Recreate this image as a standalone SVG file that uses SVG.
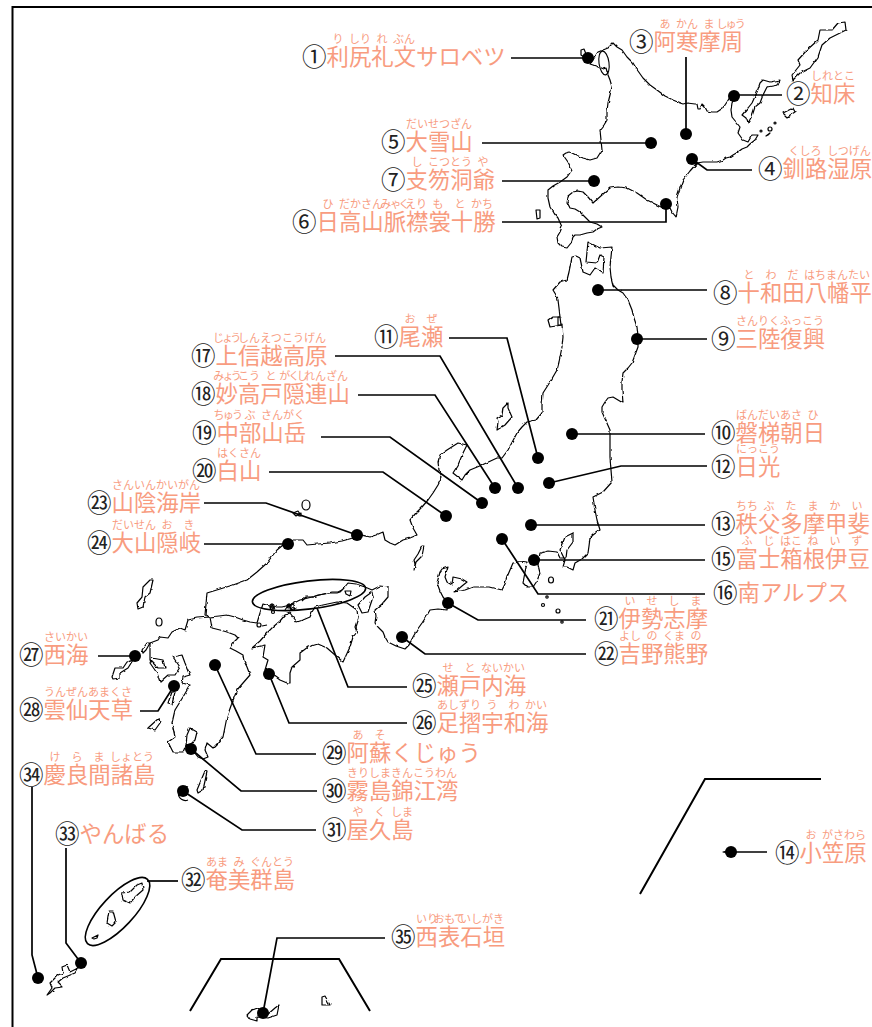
<svg xmlns="http://www.w3.org/2000/svg" width="872" height="1027" viewBox="0 0 872 1027">
<defs><filter id="w" x="-5%" y="-5%" width="110%" height="110%" filterUnits="objectBoundingBox"><feTurbulence type="fractalNoise" baseFrequency="0.2" numOctaves="1" seed="4"/><feDisplacementMap in="SourceGraphic" scale="3" xChannelSelector="R" yChannelSelector="G"/></filter></defs>
<style>
text{font-family:"Noto Sans CJK JP","Noto Sans",sans-serif}
.m{fill:none;stroke:#000;stroke-width:1.2;stroke-linejoin:round}
.e{fill:none;stroke:#000;stroke-width:1.6}
.f{fill:none;stroke:#000;stroke-width:2}
.c{fill:none;stroke:#000;stroke-width:1.7}
.n{font-size:24.5px;fill:#222;transform:translate(-1px,1px)}
.l{font-size:22.4px;fill:#f89c7f;transform:translate(-.5px,0)}
.r{font-size:11px;fill:#f89c7f;text-anchor:middle}
.t{font-feature-settings:"palt"}
.d{fill:#000}
</style>
<rect width="872" height="1027" fill="#fff"/>
<g id="map">
<path class="f" d="M872 7H12.500V1027"/>
<path class="f" d="M190 1011L221 959H339L370 1011M640 894L705 779H821"/>
<g filter="url(#w)">
<path class="m" d="M613 43L617 47 622 50 627 57 633 63 638 71 643 78 650 85 657 90 665 96 673 100 680 103 683 104 687 103 695 104 697 104 698 109 700 109 702 104 705 107 707 111 712 112 717 112 723 108 727 102 730 97 737 92 735 97 732 103 731 110 732 117 736 122 740 127 738 133 743 140 748 142 752 135 758 135 755 140 750 144 747 147 742 149 738 152 733 155 730 157 726 158 723 160 717 162 710 162 703 162 697 163 690 171 683 180 680 188 677 197 678 207 676 217 672 212 670 208 663 208 655 204 647 200 637 193 627 188 618 187 610 188 602 195 593 203 588 197 583 192 578 191 573 192 568 196 567 202 570 208 575 209 580 212 585 217 590 222 597 224 602 227 597 229 593 232 587 233 580 235 575 235 573 237 571 243 567 248 562 247 558 243 557 237 560 232 562 227 558 218 553 212 550 207 548 198 548 190 553 186 560 182 567 177 572 170 568 162 563 155 566 153 570 152 576 155 583 158 590 160 597 158 602 150 601 140 600 130 604 125 607 120 607 111 608 103 610 95 612 87 610 80 608 75 606 68 603 69 598 67 593 65 590 64 593 60 596 55 598 52 603 50 608 48 613 43Z"/>
<path class="m" d="M763 80L770 82 780 80 778 85 767 87 763 95 760 103 755 107 752 116 748 123 746 118 742 115 748 108 752 103 757 92 760 83Z"/>
<path class="m" d="M845 22L838 23 832 30 820 30 818 40 807 50 798 60 800 65 792 75 793 80 800 73 810 68 818 57 822 45 830 38 846 30Z"/>
<path class="m" d="M783 113L793 108 795 112 787 117Z"/>
<path class="m" d="M588 242L594 245 600 248 612 247 611 257 610 267 611 277 613 285 618 290 623 293 628 300 632 310 634 318 637 327 638 337 638 347 635 355 632 363 628 368 623 373 622 382 622 390 623 403 618 400 613 397 608 398 605 402 602 407 602 412 606 421 610 430 610 445 610 457 611 470 612 482 603 492 593 497 595 510 597 520 600 530 593 535 590 538 589 546 588 553 582 559 575 563 573 570 567 567 563 567 565 560 560 550 565 537 573 533 573 542 567 550 566 558 560 558 557 552 548 551 540 553 538 565 540 573 537 581 533 587 527 587 523 583 525 572 527 563 520 562 513 563 510 570 507 577 505 584 502 590 490 587 473 587 465 590 455 592 462 586 467 582 462 579 453 577 452 585 447 582 445 577 448 567 442 569 440 572 437 583 440 591 443 597 448 603 447 610 438 609 430 610 426 617 422 623 417 630 413 637 409 645 405 649 396 646 388 642 385 637 383 632 378 627 375 623 376 616 375 610 382 604 388 597 388 587 380 586 372 590 365 587 356 584 348 583 344 588 340 592 337 593 327 593 312 597 300 600 290 605 282 607 273 607 263 604 260 613 257 623 250 622 243 620 235 617 227 615 219 616 210 617 205 615 206 604 207 593 220 589 233 585 247 580 257 572 267 563 273 555 277 550 283 545 293 540 303 540 307 545 318 544 330 543 342 541 353 538 362 535 370 537 376 535 383 532 385 540 390 543 395 545 403 540 410 538 417 535 413 528 410 520 416 513 422 507 428 500 433 493 438 485 442 477 439 470 438 462 440 455 447 450 458 443 467 445 463 453 458 465 453 473 458 477 462 480 465 475 470 470 482 465 497 458 502 458 508 450 517 433 522 427 527 422 536 420 542 413 542 405 543 393 550 382 557 370 559 362 560 357 562 347 563 337 562 325 550 327 548 320 552 317 560 317 559 308 558 300 556 295 553 290 560 282 567 280 569 272 570 267 572 257 576 256 580 258 583 272 590 275 595 268 603 273 604 257 600 255 597 263 586 262Z"/>
<path class="m" d="M508 403L508 408 512 417 505 425 497 430 498 422 497 418 502 415 503 408Z"/>
<path class="m" d="M422 546L424 546 422 556 416 562 414 570 415 564 414 560 418 554Z"/>
<path class="m" d="M358 605L365 597 372 592 373 597 368 612 362 613Z"/>
<path class="m" d="M252 648L260 641 267 633 273 627 280 621 285 615 290 613 297 622 303 620 310 617 312 612 315 607 323 605 337 602 347 603 357 610 358 618 355 627 357 632 353 637 350 647 343 662 335 655 327 648 318 644 308 647 300 653 300 660 292 667 290 673 290 683 287 683 280 680 273 675 265 670 268 660 263 657 265 645Z"/>
<path class="m" d="M210 617L212 628 220 630 227 632 235 635 238 638 234 642 230 648 236 651 243 655 244 661 247 667 250 675 243 683 237 690 232 703 227 717 225 727 223 737 218 743 213 748 207 743 205 750 208 757 203 759 198 757 190 747 186 745 190 745 195 740 197 732 190 728 187 735 186 745 183 752 173 752 168 742 175 737 172 723 175 710 183 697 190 685 182 683 183 677 190 675 185 663 182 655 173 657 180 667 175 675 168 675 160 682 157 673 150 663 152 658 163 660 165 668 158 668 150 660 150 643 158 640 160 637 168 638 172 632 180 628 185 630 188 620 197 618Z"/>
<path class="m" d="M142 650L147 643 150 643 146 650 143 653Z"/>
<path class="m" d="M150 580L153 580 150 593 145 597 143 607 138 609 137 603 142 597 143 587Z"/>
<path class="m" d="M112 677L115 668 123 668 127 662 133 660 128 668 120 673 120 678 113 679Z"/>
<path class="m" d="M148 728L159 718 160 723 155 730Z"/>
<path class="m" d="M172 692L168 703 172 704 175 692Z"/>
<path class="m" d="M205 771L207 772 203 790 198 793 197 790 202 778Z"/>
<path class="m" d="M122 893L130 892 137 885 142 883 143 890 135 897 130 903 123 900Z"/>
<path class="m" d="M109 911L113 911 116 922 112 926 107 923 108 917Z"/>
<path class="m" d="M47 995L52 988 50 983 58 975 63 973 62 967 67 965 70 972 78 968 75 973 63 978 58 982 63 987 55 988 50 993Z"/>
<path class="m" d="M247 1015L252 1010 258 1008 267 1015 275 1008 279 1005 277 1015 268 1018 257 1017 257 1021 250 1019Z"/>
<path class="m" d="M322 997L325 996 330 1005 322 1005Z"/>
<path class="m" d="M277 605L274 609 272 604 270 608 274 611M288 607L293 604 296 608 291 610 289 604 285 610M302 601L306 597 313 597 318 595 325 594 332 592 338 592 342 590M345 591L351 591 350 596 346 594Z"/>
</g>
<ellipse class="e" cx="604" cy="63" rx="5" ry="12" transform="rotate(-8 604 63)" style="stroke-width:1.1"/>
<path class="m" d="M581 50L584 49 586 54 584 57 581 55Z"/>
<circle class="m" cx="770" cy="129" r="2"/><circle class="m" cx="775" cy="123" r="1"/><circle class="m" cx="761" cy="131" r="1"/>
<path class="m" d="M766 136L770 133 768 135Z"/>
<path class="m" d="M536 210L540 210 540 218 537 219Z"/>
<path class="m" d="M560 317L561 325 558 325 558 317Z"/>
<ellipse class="m" cx="306" cy="505" rx="4" ry="5"/>
<path class="m" d="M293 513L298 511 300 514 296 516Z"/><path class="m" d="M298 514L301 513 301 516 299 516Z"/>
<ellipse class="m" cx="551" cy="580" rx="2.500" ry="3"/><circle class="m" cx="547" cy="597" r="1.200"/><circle class="m" cx="543" cy="605" r="1.500"/><ellipse class="m" cx="558" cy="611" rx="2" ry="2"/><circle class="m" cx="562" cy="622" r="1.200"/>
<ellipse class="e" cx="309" cy="595" rx="57" ry="14" transform="rotate(-7 309 595)"/>
<circle class="m" cx="272" cy="606" r="2"/><circle class="m" cx="289" cy="606" r="2"/><circle class="m" cx="293" cy="609" r="1.500"/><circle class="m" cx="273" cy="612" r="1.500"/>
<circle class="m" cx="259" cy="625" r="2"/><path class="m" d="M262 626L267 625"/>
<ellipse class="m" cx="159" cy="622" rx="3" ry="4"/>
<path class="m" d="M188 800A7 7 0 1 1 188 787"/>
<ellipse class="e" cx="117.500" cy="911.500" rx="44" ry="16" transform="rotate(-47 117.500 911.500)"/>
<path class="m" d="M92 938L98 935 97 938 94 939Z"/>
<path class="m" d="M723 852L731 850 735 852 731 854Z"/>
</g>
<g id="connectors">
<path class="c" d="M511 58H588"/><path class="c" d="M734 95H782"/><path class="c" d="M686 57V134"/><path class="c" d="M692 159L707 170H752"/>
<path class="c" d="M482 143H651"/><path class="c" d="M502 181H594"/><path class="c" d="M502 222H666V204"/><path class="c" d="M598 290H707"/>
<path class="c" d="M637 339H707"/><path class="c" d="M572 434H705"/><path class="c" d="M449 338H507L538 458"/><path class="c" d="M549 483L621 466H707"/>
<path class="c" d="M531 525H705"/><path class="c" d="M534 560H705"/><path class="c" d="M502 539L538 594H705"/><path class="c" d="M335 356H440L518 488"/>
<path class="c" d="M358 395H435L495 488"/><path class="c" d="M321 437H390L482 503"/><path class="c" d="M269 472H383L446 516"/><path class="c" d="M448 603L478 620H586"/>
<path class="c" d="M402 637L425 654H586"/><path class="c" d="M204 503H266L357 535"/><path class="c" d="M204 544H288"/><path class="c" d="M317 608L348 687H407"/>
<path class="c" d="M269 674L289 723H407"/><path class="c" d="M98 656H135"/><path class="c" d="M140 711H158L174 686"/><path class="c" d="M215 665L256 754H316"/>
<path class="c" d="M191 749L241 791H317"/><path class="c" d="M183 791L242 830H316"/><path class="c" d="M147 881H178"/><path class="c" d="M66 848V943L81 963"/>
<path class="c" d="M32 787V955L38 978"/><path class="c" d="M385 938H277L263 1013"/><path class="c" d="M731 852H767"/>
</g>
<g id="n1"><circle class="d" cx="588" cy="58" r="6"/><text class="n" x="303" y="65">①</text><text class="l" x="327" y="65">利尻礼文サロベツ</text><text class="r" y="43"><tspan x="338">り</tspan><tspan x="360">しり</tspan><tspan x="382">れ</tspan><tspan x="404">ぶん</tspan></text></g>
<g id="n2"><circle class="d" cx="734" cy="96" r="6"/><text class="n" x="787" y="102">②</text><text class="l" x="811" y="102">知床</text><text class="r" y="80"><tspan x="833">しれとこ</tspan></text></g>
<g id="n3"><circle class="d" cx="686" cy="134" r="6"/><text class="n" x="630" y="50">③</text><text class="l" x="654" y="50">阿寒摩周</text><text class="r" y="28"><tspan x="665">あ</tspan><tspan x="687">かん</tspan><tspan x="709">ま</tspan><tspan class="t" x="731">しゅう</tspan></text></g>
<g id="n4"><circle class="d" cx="692" cy="159" r="6"/><text class="n" x="759" y="177">④</text><text class="l" x="783" y="177">釧路湿原</text><text class="r" y="155"><tspan x="805">くしろ</tspan><tspan x="849">しつげん</tspan></text></g>
<g id="n5"><circle class="d" cx="651" cy="143" r="6"/><text class="n" x="382" y="150">⑤</text><text class="l" x="406" y="150">大雪山</text><text class="r" y="128"><tspan x="417">だい</tspan><tspan x="439">せつ</tspan><tspan x="461">ざん</tspan></text></g>
<g id="n7"><circle class="d" cx="594" cy="181" r="6"/><text class="n" x="382" y="188">⑦</text><text class="l" x="406" y="188">支笏洞爺</text><text class="r" y="166"><tspan x="417">し</tspan><tspan x="439">こつ</tspan><tspan x="461">とう</tspan><tspan x="483">や</tspan></text></g>
<g id="n6"><circle class="d" cx="666" cy="204" r="6"/><text class="n" x="293" y="230">⑥</text><text class="l" x="317" y="230">日高山脈襟裳十勝</text><text class="r" y="208"><tspan x="328">ひ</tspan><tspan x="350">だか</tspan><tspan x="372">さん</tspan><tspan class="t" x="394">みゃく</tspan><tspan x="416">えり</tspan><tspan x="438">も</tspan><tspan x="460">と</tspan><tspan x="482">かち</tspan></text></g>
<g id="n8"><circle class="d" cx="598" cy="290" r="6"/><text class="n" x="714" y="301">⑧</text><text class="l" x="738" y="301">十和田八幡平</text><text class="r" y="279"><tspan x="749">と</tspan><tspan x="771">わ</tspan><tspan x="793">だ</tspan><tspan x="837">はちまんたい</tspan></text></g>
<g id="n9"><circle class="d" cx="637" cy="339" r="6"/><text class="n" x="712" y="347">⑨</text><text class="l" x="736" y="347">三陸復興</text><text class="r" y="325"><tspan x="747">さん</tspan><tspan x="769">りく</tspan><tspan x="791">ふっ</tspan><tspan x="813">こう</tspan></text></g>
<g id="n10"><circle class="d" cx="572" cy="434" r="6"/><text class="n" x="712" y="441">⑩</text><text class="l" x="736" y="441">磐梯朝日</text><text class="r" y="419"><tspan x="747">ばん</tspan><tspan x="769">だい</tspan><tspan x="791">あさ</tspan><tspan x="813">ひ</tspan></text></g>
<g id="n11"><circle class="d" cx="538" cy="458" r="6"/><text class="n" x="375" y="345">⑪</text><text class="l" x="399" y="345">尾瀬</text><text class="r" y="323"><tspan x="410">お</tspan><tspan x="432">ぜ</tspan></text></g>
<g id="n12"><circle class="d" cx="549" cy="483" r="6"/><text class="n" x="712" y="475">⑫</text><text class="l" x="736" y="475">日光</text><text class="r" y="453"><tspan x="747">にっ</tspan><tspan x="769">こう</tspan></text></g>
<g id="n13"><circle class="d" cx="531" cy="525" r="6"/><text class="n" x="712" y="532">⑬</text><text class="l" x="736" y="532">秩父多摩甲斐</text><text class="r" y="510"><tspan x="747">ちち</tspan><tspan x="769">ぶ</tspan><tspan x="791">た</tspan><tspan x="813">ま</tspan><tspan x="835">か</tspan><tspan x="857">い</tspan></text></g>
<g id="n15"><circle class="d" cx="534" cy="560" r="6"/><text class="n" x="712" y="567">⑮</text><text class="l" x="736" y="567">富士箱根伊豆</text><text class="r" y="545"><tspan x="747">ふ</tspan><tspan x="769">じ</tspan><tspan x="791">はこ</tspan><tspan x="813">ね</tspan><tspan x="835">い</tspan><tspan x="857">ず</tspan></text></g>
<g id="n16"><circle class="d" cx="502" cy="539" r="6"/><text class="n" x="714" y="601">⑯</text><text class="l" x="738" y="601">南アルプス</text></g>
<g id="n17"><circle class="d" cx="518" cy="488" r="6"/><text class="n" x="192" y="364">⑰</text><text class="l" x="216" y="364">上信越高原</text><text class="r" y="342"><tspan class="t" x="227">じょう</tspan><tspan x="249">しん</tspan><tspan x="271">えつ</tspan><tspan x="293">こう</tspan><tspan x="315">げん</tspan></text></g>
<g id="n18"><circle class="d" cx="495" cy="488" r="6"/><text class="n" x="192" y="402">⑱</text><text class="l" x="216" y="402">妙高戸隠連山</text><text class="r" y="380"><tspan class="t" x="227">みょう</tspan><tspan x="249">こう</tspan><tspan x="271">と</tspan><tspan class="t" x="293">がくし</tspan><tspan x="315">れん</tspan><tspan x="337">ざん</tspan></text></g>
<g id="n19"><circle class="d" cx="482" cy="503" r="6"/><text class="n" x="193" y="441">⑲</text><text class="l" x="217" y="441">中部山岳</text><text class="r" y="419"><tspan class="t" x="228">ちゅう</tspan><tspan x="250">ぶ</tspan><tspan x="272">さん</tspan><tspan x="294">がく</tspan></text></g>
<g id="n20"><circle class="d" cx="446" cy="516" r="6"/><text class="n" x="193" y="479">⑳</text><text class="l" x="217" y="479">白山</text><text class="r" y="457"><tspan x="228">はく</tspan><tspan x="250">さん</tspan></text></g>
<g id="n21"><circle class="d" cx="448" cy="603" r="6"/><text class="n" x="595" y="627">㉑</text><text class="l" x="619" y="627">伊勢志摩</text><text class="r" y="605"><tspan x="630">い</tspan><tspan x="652">せ</tspan><tspan x="674">し</tspan><tspan x="696">ま</tspan></text></g>
<g id="n22"><circle class="d" cx="402" cy="637" r="6"/><text class="n" x="595" y="662">㉒</text><text class="l" x="619" y="662">吉野熊野</text><text class="r" y="640"><tspan x="630">よし</tspan><tspan x="652">の</tspan><tspan x="674">くま</tspan><tspan x="696">の</tspan></text></g>
<g id="n23"><circle class="d" cx="357" cy="535" r="6"/><text class="n" x="88" y="511">㉓</text><text class="l" x="112" y="511">山陰海岸</text><text class="r" y="489"><tspan x="123">さん</tspan><tspan x="145">いん</tspan><tspan x="167">かい</tspan><tspan x="189">がん</tspan></text></g>
<g id="n24"><circle class="d" cx="288" cy="544" r="6"/><text class="n" x="88" y="551">㉔</text><text class="l" x="112" y="551">大山隠岐</text><text class="r" y="529"><tspan x="123">だい</tspan><tspan x="145">せん</tspan><tspan x="167">お</tspan><tspan x="189">き</tspan></text></g>
<g id="n25"><text class="n" x="413" y="694">㉕</text><text class="l" x="437" y="694">瀬戸内海</text><text class="r" y="672"><tspan x="448">せ</tspan><tspan x="470">と</tspan><tspan x="492">ない</tspan><tspan x="514">かい</tspan></text></g>
<g id="n26"><circle class="d" cx="269" cy="674" r="6"/><text class="n" x="413" y="731">㉖</text><text class="l" x="437" y="731">足摺宇和海</text><text class="r" y="709"><tspan x="448">あし</tspan><tspan x="470">ずり</tspan><tspan x="492">う</tspan><tspan x="514">わ</tspan><tspan x="536">かい</tspan></text></g>
<g id="n27"><circle class="d" cx="135" cy="656" r="6"/><text class="n" x="20" y="663">㉗</text><text class="l" x="44" y="663">西海</text><text class="r" y="641"><tspan x="55">さい</tspan><tspan x="77">かい</tspan></text></g>
<g id="n28"><circle class="d" cx="174" cy="686" r="6"/><text class="n" x="20" y="718">㉘</text><text class="l" x="44" y="718">雲仙天草</text><text class="r" y="696"><tspan x="55">うん</tspan><tspan x="77">ぜん</tspan><tspan x="99">あま</tspan><tspan x="121">くさ</tspan></text></g>
<g id="n29"><circle class="d" cx="215" cy="665" r="6"/><text class="n" x="323" y="761">㉙</text><text class="l" x="347" y="761">阿蘇くじゅう</text><text class="r" y="739"><tspan x="358">あ</tspan><tspan x="380">そ</tspan></text></g>
<g id="n30"><circle class="d" cx="191" cy="749" r="6"/><text class="n" x="323" y="799">㉚</text><text class="l" x="347" y="799">霧島錦江湾</text><text class="r" y="777"><tspan x="358">きり</tspan><tspan x="380">しま</tspan><tspan x="402">きん</tspan><tspan x="424">こう</tspan><tspan x="446">わん</tspan></text></g>
<g id="n31"><circle class="d" cx="183" cy="791" r="6"/><text class="n" x="323" y="838">㉛</text><text class="l" x="347" y="838">屋久島</text><text class="r" y="816"><tspan x="358">や</tspan><tspan x="380">く</tspan><tspan x="402">しま</tspan></text></g>
<g id="n32"><text class="n" x="182" y="888">㉜</text><text class="l" x="206" y="888">奄美群島</text><text class="r" y="866"><tspan x="217">あま</tspan><tspan x="239">み</tspan><tspan x="261">ぐん</tspan><tspan x="283">とう</tspan></text></g>
<g id="n33"><circle class="d" cx="81" cy="963" r="6"/><text class="n" x="56" y="842">㉝</text><text class="l" x="80" y="842">やんばる</text></g>
<g id="n34"><circle class="d" cx="38" cy="978" r="6"/><text class="n" x="20" y="783">㉞</text><text class="l" x="44" y="783">慶良間諸島</text><text class="r" y="761"><tspan x="55">け</tspan><tspan x="77">ら</tspan><tspan x="99">ま</tspan><tspan x="121">しょ</tspan><tspan x="143">とう</tspan></text></g>
<g id="n35"><circle class="d" cx="263" cy="1013" r="6"/><text class="n" x="392" y="945">㉟</text><text class="l" x="416" y="945">西表石垣</text><text class="r" y="923"><tspan x="427">いり</tspan><tspan class="t" x="449">おもて</tspan><tspan x="471">いし</tspan><tspan x="493">がき</tspan></text></g>
<g id="n14"><circle class="d" cx="731" cy="852" r="6"/><text class="n" x="776" y="861">⑭</text><text class="l" x="800" y="861">小笠原</text><text class="r" y="839"><tspan x="811">お</tspan><tspan x="833">がさ</tspan><tspan x="855">わら</tspan></text></g>
</svg>
